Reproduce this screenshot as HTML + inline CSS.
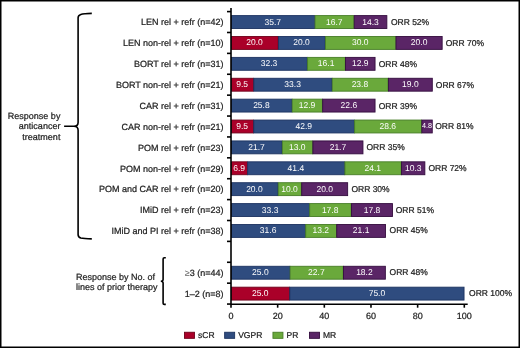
<!DOCTYPE html><html><head><meta charset="utf-8"><style>html,body{margin:0;padding:0;background:#fff}svg{display:block;will-change:transform}text{font-family:"Liberation Sans",sans-serif;text-rendering:geometricPrecision}.d{stroke:#222;stroke-width:0.22px}.w{stroke:#fff;stroke-width:0.15px}</style></head><body>
<svg width="520" height="348" viewBox="0 0 520 348">
<rect x="0" y="0" width="520" height="348" fill="#fff"/>
<rect x="231.45" y="15.60" width="83.36" height="12.90" fill="#2f4c7f" stroke="#1c3260" stroke-width="0.9"/>
<text x="272.83" y="24.50" font-size="8.5" fill="#fff" text-anchor="middle">35.7</text>
<rect x="315.11" y="15.60" width="38.83" height="12.90" fill="#6aa93b" stroke="#467d26" stroke-width="0.9"/>
<text x="334.22" y="24.50" font-size="8.5" fill="#fff" text-anchor="middle">16.7</text>
<rect x="354.24" y="15.60" width="32.61" height="12.90" fill="#5a2566" stroke="#330c3e" stroke-width="0.9"/>
<text x="370.55" y="24.50" font-size="8.5" fill="#fff" text-anchor="middle">14.3</text>
<text class="d" x="390.90" y="25.11" font-size="8.5" fill="#222">ORR 52%</text>
<text class="d" x="223.60" y="25.29" font-size="9" fill="#222" text-anchor="end">LEN rel + refr (n=42)</text>
<rect x="231.45" y="36.49" width="46.72" height="12.90" fill="#aa0029" stroke="#6e001a" stroke-width="0.9"/>
<text x="254.51" y="45.40" font-size="8.5" fill="#fff" text-anchor="middle">20.0</text>
<rect x="278.47" y="36.49" width="46.72" height="12.90" fill="#2f4c7f" stroke="#1c3260" stroke-width="0.9"/>
<text x="301.53" y="45.40" font-size="8.5" fill="#fff" text-anchor="middle">20.0</text>
<rect x="325.49" y="36.49" width="70.23" height="12.90" fill="#6aa93b" stroke="#467d26" stroke-width="0.9"/>
<text x="360.31" y="45.40" font-size="8.5" fill="#fff" text-anchor="middle">30.0</text>
<rect x="396.03" y="36.49" width="46.12" height="12.90" fill="#5a2566" stroke="#330c3e" stroke-width="0.9"/>
<text x="419.09" y="45.40" font-size="8.5" fill="#fff" text-anchor="middle">20.0</text>
<text class="d" x="445.70" y="46.00" font-size="8.5" fill="#222">ORR 70%</text>
<text class="d" x="223.60" y="46.18" font-size="9" fill="#222" text-anchor="end">LEN non-rel + refr (n=10)</text>
<rect x="231.45" y="57.38" width="75.84" height="12.90" fill="#2f4c7f" stroke="#1c3260" stroke-width="0.9"/>
<text x="269.07" y="66.29" font-size="8.5" fill="#fff" text-anchor="middle">32.3</text>
<rect x="307.59" y="57.38" width="37.65" height="12.90" fill="#6aa93b" stroke="#467d26" stroke-width="0.9"/>
<text x="326.12" y="66.29" font-size="8.5" fill="#fff" text-anchor="middle">16.1</text>
<rect x="345.54" y="57.38" width="29.51" height="12.90" fill="#5a2566" stroke="#330c3e" stroke-width="0.9"/>
<text x="360.30" y="66.29" font-size="8.5" fill="#fff" text-anchor="middle">12.9</text>
<text class="d" x="378.70" y="66.89" font-size="8.5" fill="#222">ORR 48%</text>
<text class="d" x="223.60" y="67.06" font-size="9" fill="#222" text-anchor="end">BORT rel + refr (n=31)</text>
<rect x="231.45" y="78.27" width="22.09" height="12.90" fill="#aa0029" stroke="#6e001a" stroke-width="0.9"/>
<text x="242.20" y="87.18" font-size="8.5" fill="#fff" text-anchor="middle">9.5</text>
<rect x="253.84" y="78.27" width="78.18" height="12.90" fill="#2f4c7f" stroke="#1c3260" stroke-width="0.9"/>
<text x="292.63" y="87.18" font-size="8.5" fill="#fff" text-anchor="middle">33.3</text>
<rect x="332.32" y="78.27" width="55.79" height="12.90" fill="#6aa93b" stroke="#467d26" stroke-width="0.9"/>
<text x="359.92" y="87.18" font-size="8.5" fill="#fff" text-anchor="middle">23.8</text>
<rect x="388.42" y="78.27" width="43.88" height="12.90" fill="#5a2566" stroke="#330c3e" stroke-width="0.9"/>
<text x="410.36" y="87.18" font-size="8.5" fill="#fff" text-anchor="middle">19.0</text>
<text class="d" x="435.85" y="87.78" font-size="8.5" fill="#222">ORR 67%</text>
<text class="d" x="223.60" y="87.95" font-size="9" fill="#222" text-anchor="end">BORT non-rel + refr (n=21)</text>
<rect x="231.45" y="99.15" width="60.52" height="12.90" fill="#2f4c7f" stroke="#1c3260" stroke-width="0.9"/>
<text x="261.41" y="108.06" font-size="8.5" fill="#fff" text-anchor="middle">25.8</text>
<rect x="292.27" y="99.15" width="30.11" height="12.90" fill="#6aa93b" stroke="#467d26" stroke-width="0.9"/>
<text x="307.02" y="108.06" font-size="8.5" fill="#fff" text-anchor="middle">12.9</text>
<rect x="322.68" y="99.15" width="52.37" height="12.90" fill="#5a2566" stroke="#330c3e" stroke-width="0.9"/>
<text x="348.86" y="108.06" font-size="8.5" fill="#fff" text-anchor="middle">22.6</text>
<text class="d" x="378.70" y="108.56" font-size="8.5" fill="#222">ORR 39%</text>
<text class="d" x="223.60" y="108.84" font-size="9" fill="#222" text-anchor="end">CAR rel + refr (n=31)</text>
<rect x="231.45" y="120.05" width="22.03" height="12.90" fill="#aa0029" stroke="#6e001a" stroke-width="0.9"/>
<text x="242.17" y="128.96" font-size="8.5" fill="#fff" text-anchor="middle">9.5</text>
<rect x="253.78" y="120.05" width="100.55" height="12.90" fill="#2f4c7f" stroke="#1c3260" stroke-width="0.9"/>
<text x="303.76" y="128.96" font-size="8.5" fill="#fff" text-anchor="middle">42.9</text>
<rect x="354.63" y="120.05" width="66.93" height="12.90" fill="#6aa93b" stroke="#467d26" stroke-width="0.9"/>
<text x="387.80" y="128.96" font-size="8.5" fill="#fff" text-anchor="middle">28.6</text>
<rect x="421.87" y="120.05" width="10.38" height="12.90" fill="#5a2566" stroke="#330c3e" stroke-width="0.9"/>
<text x="427.06" y="128.49" font-size="7.2" fill="#fff" text-anchor="middle">4.8</text>
<text class="d" x="435.20" y="129.25" font-size="8.5" fill="#222">ORR 81%</text>
<text class="d" x="223.60" y="129.74" font-size="9" fill="#222" text-anchor="end">CAR non-rel + refr (n=21)</text>
<rect x="231.45" y="140.93" width="50.64" height="12.90" fill="#2f4c7f" stroke="#1c3260" stroke-width="0.9"/>
<text x="256.47" y="149.84" font-size="8.5" fill="#fff" text-anchor="middle">21.7</text>
<rect x="282.39" y="140.93" width="30.22" height="12.90" fill="#6aa93b" stroke="#467d26" stroke-width="0.9"/>
<text x="297.20" y="149.84" font-size="8.5" fill="#fff" text-anchor="middle">13.0</text>
<rect x="312.91" y="140.93" width="50.04" height="12.90" fill="#5a2566" stroke="#330c3e" stroke-width="0.9"/>
<text x="337.93" y="149.84" font-size="8.5" fill="#fff" text-anchor="middle">21.7</text>
<text class="d" x="366.50" y="150.04" font-size="8.5" fill="#222">ORR 35%</text>
<text class="d" x="223.60" y="150.62" font-size="9" fill="#222" text-anchor="end">POM rel + refr (n=23)</text>
<rect x="231.45" y="161.82" width="15.91" height="12.90" fill="#aa0029" stroke="#6e001a" stroke-width="0.9"/>
<text x="239.11" y="170.74" font-size="8.5" fill="#fff" text-anchor="middle">6.9</text>
<rect x="247.66" y="161.82" width="96.97" height="12.90" fill="#2f4c7f" stroke="#1c3260" stroke-width="0.9"/>
<text x="295.84" y="170.74" font-size="8.5" fill="#fff" text-anchor="middle">41.4</text>
<rect x="344.93" y="161.82" width="56.32" height="12.90" fill="#6aa93b" stroke="#467d26" stroke-width="0.9"/>
<text x="372.79" y="170.74" font-size="8.5" fill="#fff" text-anchor="middle">24.1</text>
<rect x="401.55" y="161.82" width="23.30" height="12.90" fill="#5a2566" stroke="#330c3e" stroke-width="0.9"/>
<text x="413.20" y="170.74" font-size="8.5" fill="#fff" text-anchor="middle">10.3</text>
<text class="d" x="428.40" y="170.84" font-size="8.5" fill="#222">ORR 72%</text>
<text class="d" x="223.60" y="171.52" font-size="9" fill="#222" text-anchor="end">POM non-rel + refr (n=29)</text>
<rect x="231.45" y="182.71" width="46.54" height="12.90" fill="#2f4c7f" stroke="#1c3260" stroke-width="0.9"/>
<text x="254.42" y="191.62" font-size="8.5" fill="#fff" text-anchor="middle">20.0</text>
<rect x="278.29" y="182.71" width="23.12" height="12.90" fill="#6aa93b" stroke="#467d26" stroke-width="0.9"/>
<text x="289.55" y="191.62" font-size="8.5" fill="#fff" text-anchor="middle">10.0</text>
<rect x="301.71" y="182.71" width="45.94" height="12.90" fill="#5a2566" stroke="#330c3e" stroke-width="0.9"/>
<text x="324.68" y="191.62" font-size="8.5" fill="#fff" text-anchor="middle">20.0</text>
<text class="d" x="351.40" y="191.62" font-size="8.5" fill="#222">ORR 30%</text>
<text class="d" x="223.60" y="192.41" font-size="9" fill="#222" text-anchor="end">POM and CAR rel + refr (n=20)</text>
<rect x="231.45" y="203.60" width="77.95" height="12.90" fill="#2f4c7f" stroke="#1c3260" stroke-width="0.9"/>
<text x="270.12" y="212.52" font-size="8.5" fill="#fff" text-anchor="middle">33.3</text>
<rect x="309.70" y="203.60" width="41.53" height="12.90" fill="#6aa93b" stroke="#467d26" stroke-width="0.9"/>
<text x="330.16" y="212.52" font-size="8.5" fill="#fff" text-anchor="middle">17.8</text>
<rect x="351.52" y="203.60" width="40.93" height="12.90" fill="#5a2566" stroke="#330c3e" stroke-width="0.9"/>
<text x="371.99" y="212.52" font-size="8.5" fill="#fff" text-anchor="middle">17.8</text>
<text class="d" x="395.70" y="212.52" font-size="8.5" fill="#222">ORR 51%</text>
<text class="d" x="223.60" y="213.30" font-size="9" fill="#222" text-anchor="end">IMiD rel + refr (n=23)</text>
<rect x="231.45" y="224.49" width="73.98" height="12.90" fill="#2f4c7f" stroke="#1c3260" stroke-width="0.9"/>
<text x="268.14" y="233.41" font-size="8.5" fill="#fff" text-anchor="middle">31.6</text>
<rect x="305.73" y="224.49" width="30.73" height="12.90" fill="#6aa93b" stroke="#467d26" stroke-width="0.9"/>
<text x="320.79" y="233.41" font-size="8.5" fill="#fff" text-anchor="middle">13.2</text>
<rect x="336.75" y="224.49" width="48.70" height="12.90" fill="#5a2566" stroke="#330c3e" stroke-width="0.9"/>
<text x="361.10" y="233.41" font-size="8.5" fill="#fff" text-anchor="middle">21.1</text>
<text class="d" x="389.60" y="233.31" font-size="8.5" fill="#222">ORR 45%</text>
<text class="d" x="223.60" y="234.19" font-size="9" fill="#222" text-anchor="end">IMiD and PI rel + refr (n=38)</text>
<rect x="231.45" y="266.28" width="58.43" height="12.90" fill="#2f4c7f" stroke="#1c3260" stroke-width="0.9"/>
<text x="260.36" y="275.19" font-size="8.5" fill="#fff" text-anchor="middle">25.0</text>
<rect x="290.18" y="266.28" width="53.02" height="12.90" fill="#6aa93b" stroke="#467d26" stroke-width="0.9"/>
<text x="316.39" y="275.19" font-size="8.5" fill="#fff" text-anchor="middle">22.7</text>
<rect x="343.50" y="266.28" width="41.85" height="12.90" fill="#5a2566" stroke="#330c3e" stroke-width="0.9"/>
<text x="364.42" y="275.19" font-size="8.5" fill="#fff" text-anchor="middle">18.2</text>
<text class="d" x="389.60" y="274.69" font-size="8.5" fill="#222">ORR 48%</text>
<text class="d" x="223.60" y="275.97" font-size="9" fill="#222" text-anchor="end"><tspan fill="#666" style="stroke:none">≥</tspan>3 (n=44)</text>
<rect x="231.45" y="287.17" width="58.08" height="12.90" fill="#aa0029" stroke="#6e001a" stroke-width="0.9"/>
<text x="260.19" y="296.07" font-size="8.5" fill="#fff" text-anchor="middle">25.0</text>
<rect x="289.82" y="287.17" width="174.22" height="12.90" fill="#2f4c7f" stroke="#1c3260" stroke-width="0.9"/>
<text x="376.94" y="296.07" font-size="8.5" fill="#fff" text-anchor="middle">75.0</text>
<text class="d" x="469.10" y="296.07" font-size="8.5" fill="#222">ORR 100%</text>
<text class="d" x="223.60" y="296.86" font-size="9" fill="#222" text-anchor="end">1–2 (n=8)</text>
<g stroke="#000" stroke-width="1.6" fill="none">
<line x1="231.0" y1="8" x2="231.0" y2="307.7"/>
<line x1="231.0" y1="304.3" x2="467.7" y2="304.3"/>
<line x1="227" y1="11.60" x2="231.0" y2="11.60"/>
<line x1="227" y1="32.49" x2="231.0" y2="32.49"/>
<line x1="227" y1="53.38" x2="231.0" y2="53.38"/>
<line x1="227" y1="74.27" x2="231.0" y2="74.27"/>
<line x1="227" y1="95.16" x2="231.0" y2="95.16"/>
<line x1="227" y1="116.05" x2="231.0" y2="116.05"/>
<line x1="227" y1="136.94" x2="231.0" y2="136.94"/>
<line x1="227" y1="157.83" x2="231.0" y2="157.83"/>
<line x1="227" y1="178.72" x2="231.0" y2="178.72"/>
<line x1="227" y1="199.61" x2="231.0" y2="199.61"/>
<line x1="227" y1="220.50" x2="231.0" y2="220.50"/>
<line x1="227" y1="241.39" x2="231.0" y2="241.39"/>
<line x1="227" y1="262.28" x2="231.0" y2="262.28"/>
<line x1="227" y1="283.17" x2="231.0" y2="283.17"/>
<line x1="227" y1="304.06" x2="231.0" y2="304.06"/>
<line x1="277.66" y1="304.3" x2="277.66" y2="307.7"/>
<line x1="324.32" y1="304.3" x2="324.32" y2="307.7"/>
<line x1="370.98" y1="304.3" x2="370.98" y2="307.7"/>
<line x1="417.64" y1="304.3" x2="417.64" y2="307.7"/>
<line x1="464.30" y1="304.3" x2="464.30" y2="307.7"/>
</g>
<text x="231.00" y="318.8" font-size="9" fill="#222" class="d" text-anchor="middle">0</text>
<text x="277.66" y="318.8" font-size="9" fill="#222" class="d" text-anchor="middle">20</text>
<text x="324.32" y="318.8" font-size="9" fill="#222" class="d" text-anchor="middle">40</text>
<text x="370.98" y="318.8" font-size="9" fill="#222" class="d" text-anchor="middle">60</text>
<text x="417.64" y="318.8" font-size="9" fill="#222" class="d" text-anchor="middle">80</text>
<text x="464.30" y="318.8" font-size="9" fill="#222" class="d" text-anchor="middle">100</text>
<g stroke="#000" stroke-width="1.6" fill="none" stroke-linecap="butt">
<path d="M91.8,13.4 C87,13.5 83,13.7 80.8,14.4 C78.8,15 78.1,16 78.1,17.8 L78.1,122.4 C78.1,124.6 76.5,126.2 73.9,126.3 L64.1,126.3 M73.9,126.3 C76.5,126.4 78.1,128 78.1,130.2 L78.1,234.5 C78.1,236.3 78.8,237.4 80.8,238.1 C83,238.7 87,238.9 91.8,238.9"/>
<path d="M165.8,257.7 L164.3,257.7 Q163.1,257.7 163.1,258.9 L163.1,279.6 Q163.1,281.3 160.8,281.3 M160.8,281.3 Q163.1,281.3 163.1,283 L163.1,303.2 Q163.1,304.4 164.3,304.4 L165.8,304.4"/>
</g>
<text class="d" font-size="9" fill="#222" text-anchor="end"><tspan x="60.4" y="118.8">Response by</tspan><tspan x="60.4" y="129.3">anticancer</tspan><tspan x="60.4" y="139.8">treatment</tspan></text>
<text class="d" font-size="9" fill="#222"><tspan x="76" y="279.5">Response by No. of</tspan><tspan x="76" y="289.5">lines of prior therapy</tspan></text>
<rect x="184.45" y="332.25" width="10.0" height="6.1" fill="#aa0029" stroke="#6e001a" stroke-width="0.9"/>
<text x="198" y="338.2" font-size="8.5" fill="#222" class="d">sCR</text>
<rect x="224.64999999999998" y="332.25" width="10.0" height="6.1" fill="#2f4c7f" stroke="#1c3260" stroke-width="0.9"/>
<text x="238.2" y="338.2" font-size="8.5" fill="#222" class="d">VGPR</text>
<rect x="272.95" y="332.25" width="10.0" height="6.1" fill="#6aa93b" stroke="#467d26" stroke-width="0.9"/>
<text x="286.5" y="338.2" font-size="8.5" fill="#222" class="d">PR</text>
<rect x="309.45" y="332.25" width="10.0" height="6.1" fill="#5a2566" stroke="#330c3e" stroke-width="0.9"/>
<text x="323" y="338.2" font-size="8.5" fill="#222" class="d">MR</text>
<rect x="0.75" y="0.75" width="518.5" height="346.5" fill="none" stroke="#000" stroke-width="1.5"/>
</svg></body></html>
